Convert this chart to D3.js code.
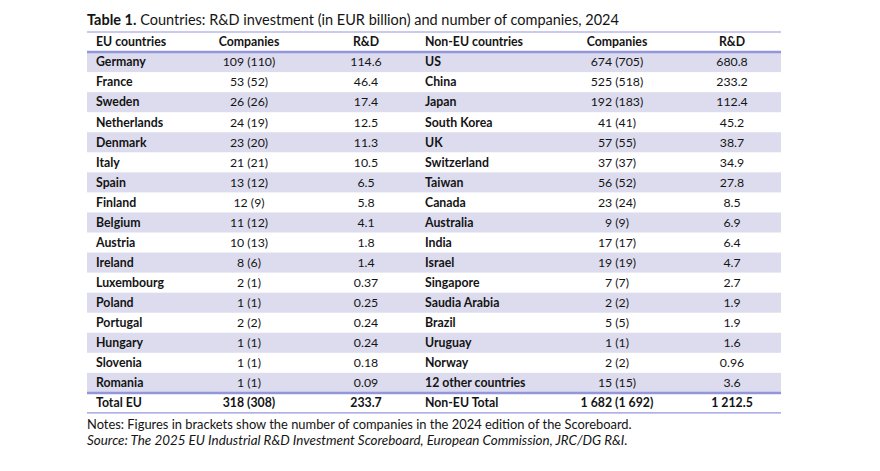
<!DOCTYPE html>
<meta charset="utf-8">
<head>
	<script src="https://d3js.org/d3.v7.min.js"></script>
	<style>
		body {
			margin: 0;
			background: #fff;
		}
		svg text {
			font-family: Lato, "Noto Sans", sans-serif;
			fill: #141414;
		}
		.bold {
			font-weight: bold;
		}
	</style>
</head>

<body>
	<div id="chart"></div>
</body>

<script type="text/javascript">

	// EU side
	var euCountries = ["Germany", "France", "Sweden", "Netherlands", "Denmark", "Italy", "Spain", "Finland", "Belgium",
		"Austria", "Ireland", "Luxembourg", "Poland", "Portugal", "Hungary", "Slovenia", "Romania"];
	var euCompanies = [109, 53, 26, 24, 23, 21, 13, 12, 11, 10, 8, 2, 1, 2, 1, 1, 1];
	var euCompaniesPrev = [110, 52, 26, 19, 20, 21, 12, 9, 12, 13, 6, 1, 1, 2, 1, 1, 1];
	var euRD = [114.6, 46.4, 17.4, 12.5, 11.3, 10.5, 6.5, 5.8, 4.1, 1.8, 1.4, 0.37, 0.25, 0.24, 0.24, 0.18, 0.09];

	// non-EU side
	var nonEuCountries = ["US", "China", "Japan", "South Korea", "UK", "Switzerland", "Taiwan", "Canada", "Australia",
		"India", "Israel", "Singapore", "Saudia Arabia", "Brazil", "Uruguay", "Norway", "12 other countries"];
	var nonEuCompanies = [674, 525, 192, 41, 57, 37, 56, 23, 9, 17, 19, 7, 2, 5, 1, 2, 15];
	var nonEuCompaniesPrev = [705, 518, 183, 41, 55, 37, 52, 24, 9, 17, 19, 7, 2, 5, 1, 2, 15];
	var nonEuRD = [680.8, 233.2, 112.4, 45.2, 38.7, 34.9, 27.8, 8.5, 6.9, 6.4, 4.7, 2.7, 1.9, 1.9, 1.6, 0.96, 3.6];

	// totals
	var euTotal = {label: "Total EU", companies: 318, prev: 308, rd: 233.7};
	var nonEuTotal = {label: "Non-EU Total", companies: 1682, prev: 1692, rd: 1212.5};

	var headers = ["EU countries", "Companies", "R&D", "Non-EU countries", "Companies", "R&D"];

	var title = "Table 1.";
	var subtitle = " Countries: R&D investment (in EUR billion) and number of companies, 2024";
	var notes = "Notes: Figures in brackets show the number of companies in the 2024 edition of the Scoreboard.";
	var source = "Source: The 2025 EU Industrial R&D Investment Scoreboard, European Commission, JRC/DG R&I.";

	var width = 880,
		height = 471,
		left = 87,
		right = 781;

	var lineColor = "#9496dc",
		shadeColor = "#dcdcee";

	var svg = d3.select("#chart").append("svg")
		.attr("width", width)
		.attr("height", height);

	svg.append("rect")
		.attr("width", width)
		.attr("height", height)
		.style("fill", "#fff");

	// group the rows
	var rows = euCountries.map(function(d, i) {
		return {
			eu: d, euC: euCompanies[i], euP: euCompaniesPrev[i], euR: euRD[i],
			ne: nonEuCountries[i], neC: nonEuCompanies[i], neP: nonEuCompaniesPrev[i], neR: nonEuRD[i]
		};
	});

	var thousands = function(n) {
		return d3.format(",")(n).replace(/,/g, " ");
	};
	var fmtCompanies = function(c, p) {
		return thousands(c) + " (" + thousands(p) + ")";
	};
	var fmtRD = function(v) {
		if (v < 1) return d3.format(".2f")(v);
		return d3.format(",.1f")(v).replace(/,/g, " ");
	};

	// rows: header, 17 body rows, total
	var y = d3.scaleBand()
		.domain(d3.range(rows.length + 2))
		.range([32, 32 + 20.05 * (rows.length + 2)])
		.padding(0);

	// column anchors
	var colX = [96, 249, 366, 425, 617, 732];
	var colAnchor = ["start", "middle", "middle", "start", "middle", "middle"];
	var fs = "12.3px";

	// shading
	svg.append("g").selectAll("rect")
		.data(rows)
		.enter().append("rect")
		.filter(function(d, i) { return i % 2 === 0; })
		.attr("x", left)
		.attr("y", function(d) { return y(rows.indexOf(d) + 1); })
		.attr("width", right - left)
		.attr("height", y.bandwidth())
		.style("fill", shadeColor);

	// header
	svg.append("g").selectAll("text")
		.data(headers)
		.enter().append("text")
		.attr("class", "bold")
		.attr("x", function(d, i) { return colX[i]; })
		.attr("y", y(0) + y.bandwidth() / 2)
		.attr("dy", ".35em")
		.style("text-anchor", function(d, i) { return colAnchor[i]; })
		.style("font-size", fs)
		.text(function(d) { return d; });

	// body cells
	var body = svg.append("g").selectAll("g")
		.data(rows)
		.enter().append("g")
		.attr("transform", function(d, i) { return "translate(0," + (y(i + 1) + y.bandwidth() / 2) + ")"; });

	var cells = function(d) {
		return [d.eu, fmtCompanies(d.euC, d.euP), fmtRD(d.euR), d.ne, fmtCompanies(d.neC, d.neP), fmtRD(d.neR)];
	};

	body.selectAll("text")
		.data(function(d) { return cells(d); })
		.enter().append("text")
		.attr("class", function(d, i) { return (i === 0 || i === 3) ? "bold" : null; })
		.attr("x", function(d, i) { return colX[i]; })
		.attr("dy", ".35em")
		.style("text-anchor", function(d, i) { return colAnchor[i]; })
		.style("font-size", fs)
		.text(function(d) { return d; });

	// total row
	var totalCells = [euTotal.label, fmtCompanies(euTotal.companies, euTotal.prev), fmtRD(euTotal.rd),
		nonEuTotal.label, fmtCompanies(nonEuTotal.companies, nonEuTotal.prev), fmtRD(nonEuTotal.rd)];

	svg.append("g").selectAll("text")
		.data(totalCells)
		.enter().append("text")
		.attr("class", "bold")
		.attr("x", function(d, i) { return colX[i]; })
		.attr("y", y(rows.length + 1) + y.bandwidth() / 2)
		.attr("dy", ".35em")
		.style("text-anchor", function(d, i) { return colAnchor[i]; })
		.style("font-size", fs)
		.text(function(d) { return d; });

	// rules
	var rules = [
		{y: y(0), w: 1.2},
		{y: y(1), w: 2.5},
		{y: y(rows.length + 1), w: 2.5},
		{y: y(rows.length + 1) + y.bandwidth(), w: 1.2}
	];
	svg.append("g").selectAll("line")
		.data(rules)
		.enter().append("line")
		.attr("x1", left)
		.attr("x2", right)
		.attr("y1", function(d) { return d.y; })
		.attr("y2", function(d) { return d.y; })
		.style("stroke", lineColor)
		.style("stroke-width", function(d) { return d.w; });

	// title
	var t = svg.append("text")
		.attr("x", left)
		.attr("y", 25)
		.style("font-size", "14.5px");
	t.append("tspan").attr("class", "bold").text(title);
	t.append("tspan").text(subtitle);

	// notes
	svg.append("text")
		.attr("x", left)
		.attr("y", 429)
		.style("font-size", "12.9px")
		.text(notes);

	svg.append("text")
		.attr("x", left)
		.attr("y", 445)
		.style("font-size", "13.4px")
		.style("font-style", "italic")
		.text(source);
</script>
